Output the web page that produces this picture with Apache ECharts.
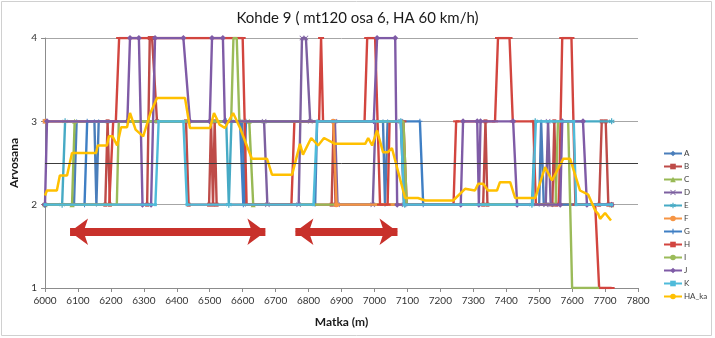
<!DOCTYPE html>
<html><head><meta charset="utf-8">
<script src="https://cdn.jsdelivr.net/npm/echarts@6/dist/echarts.min.js"></script>
<style>html,body{margin:0;padding:0;background:#fff}#c{width:715px;height:338px}</style>
</head><body><div id="c"></div>
<script>
const chartTitle = 'Kohde 9 ( mt120 osa 6, HA 60 km/h)';
const xName = 'Matka (m)';
const yName = 'Arvosana';
const xRange = [6000, 7800];
const xStep = 100;
const yRange = [1, 4];
const threshold = 2.5;
const arrowLevel = 1.675;
const arrowRanges = [[6076, 6669], [6760, 7070]];

const seriesA = [[6000,2],[6088,2],[6096,3],[6150,3],[6156,2],[6163,3],[6598,3],[6608,2],[6820,2],[6826,3],[7026,3],[7032,2],[7040,3],[7082,3],[7090,2],[7500,2],[7506,3],[7514,2],[7720,2]];
const seriesB = [[6000,2],[6183,2],[6190,3],[6197,2],[6310,2],[6318,4],[6325,4],[6340,3],[6428,3],[6436,2],[6498,2],[6504,3],[6510,2],[6515,3],[6521,2],[6870,2],[6876,3],[6882,2],[7330,2],[7337,3],[7343,2],[7540,2],[7546,3],[7552,2],[7682,2],[7690,3],[7702,3],[7710,2],[7720,2]];
const seriesC = [[6000,2],[6082,2],[6090,3],[6620,3],[6632,2],[7720,2]];
const seriesD = [[6000,3],[6665,3],[6675,2],[6770,2],[6780,4],[6792,4],[6805,3],[6880,3],[6888,2],[6995,2],[7003,3],[7080,3],[7090,2],[7520,2],[7527,3],[7535,2],[7720,2]];
const seriesE = [[6000,2],[6052,2],[6061,3],[6550,3],[6558,2],[6566,3],[7080,3],[7092,2],[7478,2],[7488,3],[7720,3]];
const seriesF = [[6000,3],[6875,3],[6885,2],[7720,2]];
const seriesG = [[6000,2],[6120,2],[6128,3],[6592,3],[6602,2],[6610,3],[7138,3],[7148,2],[7720,2]];
const seriesH = [[6000,2],[6195,2],[6207,3],[6215,3],[6225,4],[6600,4],[6612,2],[6748,2],[6757,3],[6832,3],[6838,4],[6844,3],[6970,3],[6978,4],[7002,4],[7017,2],[7040,2],[7046,3],[7088,3],[7098,2],[7240,2],[7248,3],[7366,3],[7375,4],[7410,4],[7420,3],[7482,3],[7490,2],[7560,2],[7570,4],[7598,4],[7610,2],[7670,2],[7682,1],[7720,1]];
const seriesI = [[6000,2],[6218,2],[6224,3],[6565,3],[6572,4],[6582,4],[6590,3],[7088,3],[7098,2],[7550,2],[7557,3],[7588,3],[7600,1],[7682,1]];
const seriesJ = [[6000,2],[6006,3],[6250,3],[6258,4],[6285,4],[6296,2],[6322,2],[6334,4],[6420,4],[6440,3],[6500,3],[6507,4],[6540,4],[6546,3],[6998,3],[7008,4],[7063,4],[7069,2],[7262,2],[7269,3],[7312,3],[7317,2],[7322,3],[7421,3],[7433,2],[7564,2],[7570,3],[7633,3],[7645,2],[7720,2]];
const seriesK = [[6000,2],[6335,2],[6345,3],[6420,3],[6431,2],[6815,2],[6826,3],[7080,3],[7090,2],[7480,2],[7490,3],[7605,3],[7612,2],[7720,2]];
const seriesHA = [[6000,2.11],[6006,2.17],[6036,2.17],[6045,2.35],[6067,2.35],[6082,2.62],[6155,2.62],[6160,2.71],[6188,2.71],[6194,2.82],[6205,2.82],[6219,2.71],[6231,2.93],[6249,2.93],[6258,3.1],[6275,2.9],[6298,2.82],[6320,3.1],[6340,3.28],[6425,3.28],[6440,2.92],[6501,2.92],[6513,3.1],[6530,2.96],[6546,2.92],[6571,3.1],[6592,2.92],[6628,2.55],[6674,2.55],[6689,2.36],[6750,2.36],[6774,2.73],[6783,2.6],[6808,2.8],[6829,2.71],[6847,2.8],[6880,2.73],[6972,2.73],[6981,2.8],[6993,2.71],[7008,2.89],[7026,2.63],[7041,2.63],[7053,2.68],[7093,2.08],[7132,2.08],[7154,2.05],[7239,2.05],[7275,2.19],[7305,2.17],[7315,2.25],[7330,2.25],[7345,2.17],[7372,2.17],[7381,2.27],[7412,2.27],[7427,2.08],[7488,2.08],[7518,2.45],[7539,2.29],[7573,2.55],[7594,2.55],[7624,2.17],[7649,2.12],[7670,1.93],[7679,1.89],[7685,1.83],[7700,1.9],[7718,1.81]];

const X_SYM = 'path://M1,0L5,4L9,0L10,1L6,5L10,9L9,10L5,6L1,10L0,9L4,5L0,1Z';
const PLUS_SYM = 'path://M4,0H6V4H10V6H6V10H4V6H0V4H4Z';
const STAR_SYM = 'path://M4,0H6V3.5L9,2L10,3.8L7,5L10,6.2L9,8L6,6.5V10H4V6.5L1,8L0,6.2L3,5L0,3.8L1,2L4,3.5Z';

const defs = [
  {name:'A', data:seriesA, color:'#4A7EBB', symbol:'diamond', size:4},
  {name:'B', data:seriesB, color:'#BE4B48', symbol:'rect', size:4},
  {name:'C', data:seriesC, color:'#98B954', symbol:'triangle', size:5},
  {name:'D', data:seriesD, color:'#7D60A0', symbol:X_SYM, size:5},
  {name:'E', data:seriesE, color:'#46AAC5', symbol:STAR_SYM, size:6},
  {name:'F', data:seriesF, color:'#F69544', symbol:'circle', size:5},
  {name:'G', data:seriesG, color:'#3F7FC4', symbol:PLUS_SYM, size:5},
  {name:'H', data:seriesH, color:'#D2453F', symbol:'rect', size:[6,2]},
  {name:'I', data:seriesI, color:'#9BBB59', symbol:'none', size:0},
  {name:'J', data:seriesJ, color:'#7F5BA6', symbol:'diamond', size:6},
  {name:'K', data:seriesK, color:'#4FBBDA', symbol:'rect', size:3},
  {name:'HA_ka', data:seriesHA, color:'#FFC000', symbol:'none', size:0, width:2.5}
];

const series = [{
  type:'line', data:[], silent:true, z:1,
  markLine:{silent:true, symbol:'none', label:{show:false}, animation:false,
    lineStyle:{color:'#3c3c3c', width:1, type:'solid'}, data:[{yAxis:threshold}]}
}];
defs.forEach((d, i) => {
  series.push({
    name:d.name, type:'line', data:d.data, showSymbol:d.symbol !== 'none',
    symbol:d.symbol, symbolSize:d.size, z:2 + i * 0.01,
    lineStyle:{width:d.width || 2.4, color:d.color}, itemStyle:{color:d.color},
    animation:false
  });
});
series.push({
  type:'line', data:[], silent:true, z:5,
  markLine:{silent:true, animation:false, symbol:['arrow','arrow'], symbolSize:[20,18],
    label:{show:false},
    lineStyle:{color:'#C8312B', width:8, type:'solid', opacity:1},
    itemStyle:{color:'#C8312B'},
    data: arrowRanges.map(r => [{coord:[r[0], arrowLevel]}, {coord:[r[1], arrowLevel]}])}
});

const chart = echarts.init(document.getElementById('c'), null, {renderer:'canvas'});
chart.setOption({
  animation:false,
  backgroundColor:'#ffffff',
  title:{text:chartTitle, left:'center', top:6,
    textStyle:{fontFamily:'Lato, Open Sans, sans-serif', fontSize:15, fontWeight:'normal', color:'#1a1a1a'}},
  graphic:[{type:'rect', shape:{x:1.5, y:1.5, width:710, height:334},
    style:{fill:'none', stroke:'#d0d0d0', lineWidth:1}, silent:true}],
  legend:{orient:'vertical', left:658, top:144, itemWidth:18, itemHeight:7, itemGap:4,
    data:defs.map(d => d.name),
    textStyle:{fontFamily:'Lato, sans-serif', fontSize:8, color:'#404040', lineHeight:9, padding:[0,0,0,-3]}},
  grid:{left:45, right:77, top:38, bottom:50},
  xAxis:{type:'value', min:xRange[0], max:xRange[1], interval:xStep,
    name:xName, nameLocation:'middle', nameGap:28,
    nameTextStyle:{fontFamily:'Lato, sans-serif', fontSize:12, fontWeight:'bold', color:'#1a1a1a'},
    axisLine:{show:true, lineStyle:{color:'#8c8c8c'}},
    axisTick:{show:true, length:4, lineStyle:{color:'#8c8c8c'}},
    axisLabel:{fontFamily:'Lato, sans-serif', fontSize:10, color:'#333', margin:8, formatter:v => String(v)},
    splitLine:{show:false}},
  yAxis:{type:'value', min:yRange[0], max:yRange[1], interval:1,
    name:yName, nameLocation:'middle', nameGap:22, nameRotate:90,
    nameTextStyle:{fontFamily:'Lato, sans-serif', fontSize:12, fontWeight:'bold', color:'#1a1a1a'},
    axisLine:{show:true, lineStyle:{color:'#8c8c8c'}},
    axisTick:{show:true, length:4, lineStyle:{color:'#8c8c8c'}},
    axisLabel:{fontFamily:'Lato, sans-serif', fontSize:10, color:'#333', margin:8},
    splitLine:{show:true, lineStyle:{color:'#a6a6a6', width:1}}},
  series:series
});
</script></body></html>
